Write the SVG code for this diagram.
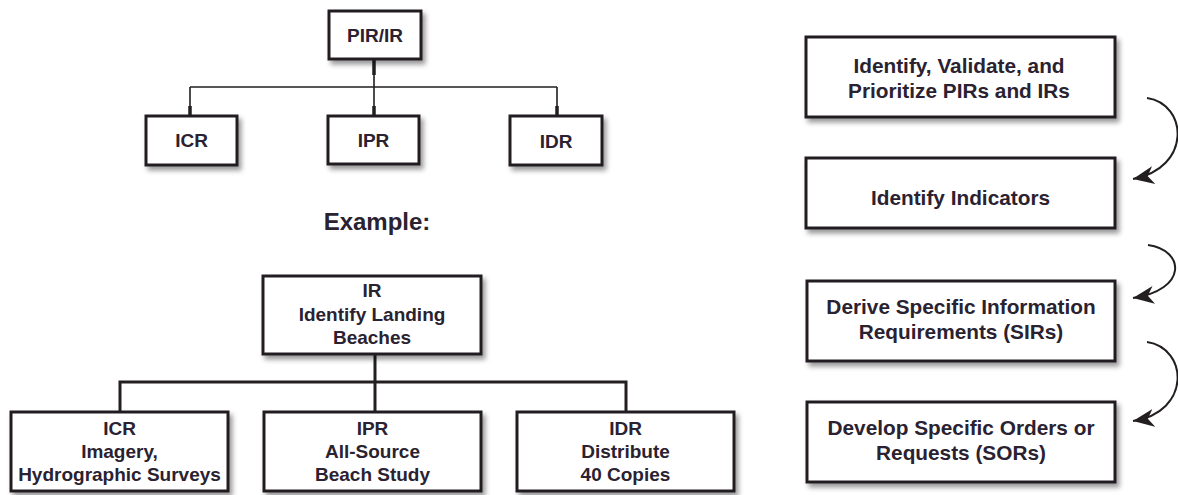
<svg xmlns="http://www.w3.org/2000/svg" width="1178" height="495" viewBox="0 0 1178 495">
<defs>
<filter id="sh" x="-10%" y="-10%" width="125%" height="135%">
<feDropShadow dx="3" dy="4" stdDeviation="2.5" flood-color="#000" flood-opacity="0.4"/>
</filter>
<marker id="ah" markerUnits="userSpaceOnUse" markerWidth="24" markerHeight="22" viewBox="0 -11 24 22" refX="21" refY="0" orient="auto">
<path d="M0,-9 L21,0 L0,9 L6,0 Z" fill="#231f20"/>
</marker>
</defs>
<style>
.box{fill:#fff;stroke:#231f20;stroke-width:3;filter:url(#sh)}
.t{font-family:"Liberation Sans",Arial,sans-serif;font-weight:bold;font-size:19px;fill:#2a2230;text-anchor:middle}
.r{font-size:20.8px}
.thin{stroke:#231f20;stroke-width:1.6;fill:none}
.thick{stroke:#231f20;stroke-width:3.5;fill:none}
.c{stroke:#231f20;stroke-width:3;fill:none}
.arc{stroke:#231f20;stroke-width:2;fill:none;marker-end:url(#ah)}
</style>
<rect width="1178" height="495" fill="#fff"/>
<g id="connectors">
<path class="thin" d="M374,59 V116 M190,87 H557 M190,87 V116 M557,87 V116"/>
<path class="thick" d="M374,59 V75 M374,106 V116 M190,106 V116 M557,106 V116"/>
<path class="c" d="M375,354 V412 M120,382 H626 M120,380.5 V412 M626,380.5 V412"/>
<path class="arc" d="M1147,98 C1188,104 1192,168 1133,179"/>
<path class="arc" d="M1148,245 C1185,250 1188,290 1133,298"/>
<path class="arc" d="M1147,342 C1188,348 1192,412 1133,421"/>
</g>
<g id="n-pir"><rect class="box" x="329" y="11" width="92" height="48"/><text class="t" x="375" y="42">PIR/IR</text></g>
<g id="n-icr"><rect class="box" x="146" y="116" width="91" height="49"/><text class="t" x="191.5" y="147">ICR</text></g>
<g id="n-ipr"><rect class="box" x="328" y="116" width="91" height="48"/><text class="t" x="373.5" y="147">IPR</text></g>
<g id="n-idr"><rect class="box" x="510" y="116" width="92" height="49"/><text class="t" x="556" y="148">IDR</text></g>
<g id="example"><text class="t" x="377" y="230" style="font-size:24px">Example:</text></g>
<g id="n-ir"><rect class="box" x="263" y="276" width="218" height="78"/>
<text class="t" x="372" y="297">IR</text><text class="t" x="372" y="321">Identify Landing</text><text class="t" x="372" y="344">Beaches</text></g>
<g id="n-icr2"><rect class="box" x="11" y="412" width="217" height="79"/>
<text class="t" x="119.5" y="435">ICR</text><text class="t" x="119.5" y="458">Imagery,</text><text class="t" x="119.5" y="481">Hydrographic Surveys</text></g>
<g id="n-ipr2"><rect class="box" x="264" y="412" width="217" height="79"/>
<text class="t" x="372.5" y="435">IPR</text><text class="t" x="372.5" y="458">All-Source</text><text class="t" x="372.5" y="481">Beach Study</text></g>
<g id="n-idr2"><rect class="box" x="517" y="412" width="217" height="79"/>
<text class="t" x="625.5" y="435">IDR</text><text class="t" x="625.5" y="458">Distribute</text><text class="t" x="625.5" y="481">40 Copies</text></g>
<g id="s1"><rect class="box" x="806" y="37" width="309" height="80"/>
<text class="t r" x="959" y="73">Identify, Validate, and</text><text class="t r" x="959" y="98">Prioritize PIRs and IRs</text></g>
<g id="s2"><rect class="box" x="806" y="158" width="309" height="70"/>
<text class="t r" x="960.5" y="205">Identify Indicators</text></g>
<g id="s3"><rect class="box" x="807" y="281" width="308" height="80"/>
<text class="t r" x="961" y="314">Derive Specific Information</text><text class="t r" x="961" y="339">Requirements (SIRs)</text></g>
<g id="s4"><rect class="box" x="807" y="402" width="308" height="80"/>
<text class="t r" x="961" y="435">Develop Specific Orders or</text><text class="t r" x="961" y="460">Requests (SORs)</text></g>
</svg>
